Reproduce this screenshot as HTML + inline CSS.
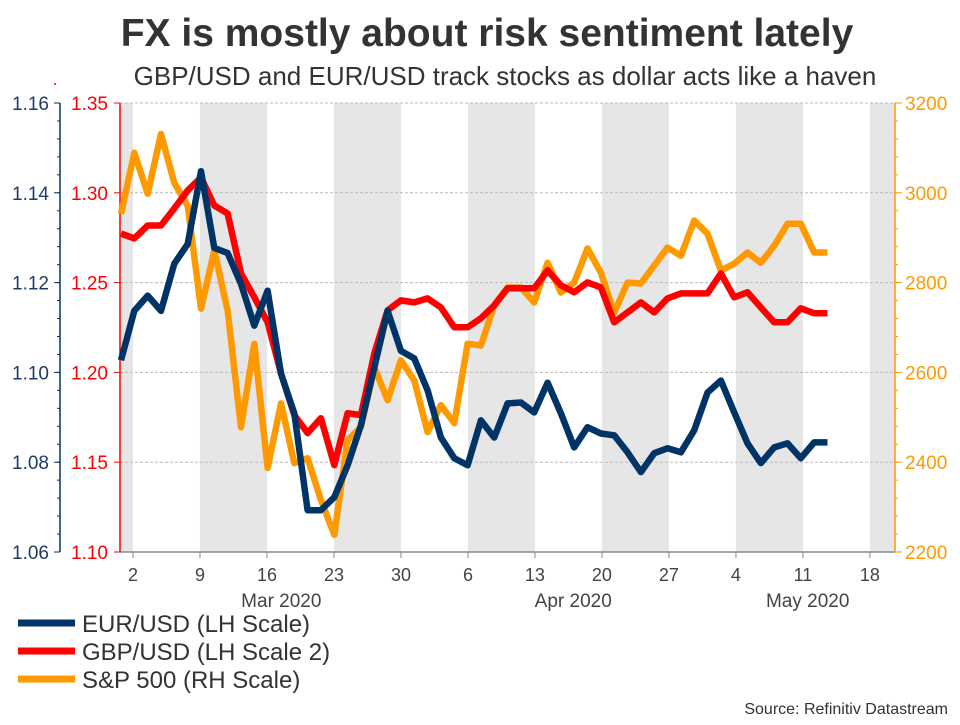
<!DOCTYPE html>
<html><head><meta charset="utf-8"><style>
body{margin:0;background:#fff;}
svg text{font-family:"Liberation Sans",Arial,sans-serif;}
</style></head><body>
<svg id="chart" width="960" height="720" viewBox="0 0 960 720" xmlns="http://www.w3.org/2000/svg">
<text x="487" y="46" text-anchor="middle" font-size="39" font-weight="bold" fill="#333">FX is mostly about risk sentiment lately</text>
<text x="505" y="85" text-anchor="middle" font-size="26" fill="#333">GBP/USD and EUR/USD track stocks as dollar acts like a haven</text>
<circle cx="55" cy="84" r="1" fill="#f00"/>
<g id="bands"></g><g id="grid"></g><g id="axes"></g><g id="series"></g>
<g>
<line x1="18" y1="623" x2="75" y2="623" stroke="#003366" stroke-width="7"/>
<text x="82" y="632" font-size="24" fill="#333">EUR/USD (LH Scale)</text>
<line x1="18" y1="651" x2="75" y2="651" stroke="#ff0000" stroke-width="7"/>
<text x="82" y="660" font-size="24" fill="#333">GBP/USD (LH Scale 2)</text>
<line x1="18" y1="679" x2="75" y2="679" stroke="#ff9900" stroke-width="7"/>
<text x="82" y="688" font-size="24" fill="#333">S&amp;P 500 (RH Scale)</text>
</g>
<text x="948" y="714" text-anchor="end" font-size="16" fill="#333">Source: Refinitiv Datastream</text>
</svg>
<script>
const eurusd=[1.1027,1.1137,1.1171,1.1137,1.1242,1.1286,1.1448,1.1277,1.1266,1.1197,1.1104,1.1182,1.0997,1.0909,1.0693,1.0693,1.0722,1.0793,1.0882,1.1011,1.1137,1.1048,1.1031,1.0960,1.0855,1.0809,1.0793,1.0893,1.0855,1.0931,1.0933,1.0911,1.0977,1.0909,1.0833,1.0878,1.0864,1.0860,1.0822,1.0778,1.0820,1.0831,1.0822,1.0871,1.0955,1.0982,1.0911,1.0842,1.0798,1.0833,1.0842,1.0809,1.0844,1.0844];
const gbpusd=[1.2773,1.2746,1.2818,1.2818,1.2913,1.3013,1.3085,1.2929,1.2885,1.2551,1.2418,1.2279,1.1995,1.1762,1.1662,1.1745,1.1484,1.1773,1.1762,1.2106,1.2346,1.2401,1.2390,1.2412,1.2362,1.2251,1.2251,1.2301,1.2373,1.2468,1.2468,1.2468,1.2568,1.2485,1.2446,1.2501,1.2473,1.2279,1.2334,1.2390,1.2334,1.2412,1.2440,1.2440,1.2440,1.2551,1.2418,1.2446,1.2362,1.2279,1.2279,1.2357,1.2329,1.2329];
const spx=[2953,3089,2998,3131,3022,2971,2742,2871,2738,2478,2664,2387,2531,2398,2409,2316,2238,2449,2478,2611,2538,2627,2582,2467,2527,2487,2664,2660,2749,2789,2789,2756,2844,2778,2800,2876,2822,2733,2800,2798,2838,2878,2860,2938,2909,2827,2842,2867,2844,2882,2931,2931,2867,2867];
const dayLabels=['2','9','16','23','30','6','13','20','27','4','11','18'];
const dayOffsets=[1,8,15,22,29,36,43,50,57,64,71,78];
const monthLabels=['Mar 2020','Apr 2020','May 2020'];
const monthOffsets=[16.5,47,71.5];
const eurTicks=[1.06,1.08,1.10,1.12,1.14,1.16];
const gbpTicks=[1.10,1.15,1.20,1.25,1.30,1.35];
const spxTicks=[2200,2400,2600,2800,3000,3200];

const NS='http://www.w3.org/2000/svg';
const L=120,R=895,T=103,B=552;
const xDay=d=>123.4+d*9.571;
const xIdx=i=>121+i*13.33;
const yEur=v=>B-(v-1.06)/0.10*(B-T);
const yGbp=v=>B-(v-1.10)/0.25*(B-T);
const ySpx=v=>B-(v-2200)/1000*(B-T);
function mk(tag,attrs,parent){const e=document.createElementNS(NS,tag);for(const k in attrs)e.setAttribute(k,attrs[k]);parent.appendChild(e);return e;}
const bands=document.getElementById('bands'),grid=document.getElementById('grid'),axes=document.getElementById('axes'),series=document.getElementById('series');
const bandStarts=[-6,8,22,36,50,64,78];
bandStarts.forEach((s,k)=>{const x1=Math.max(L,xDay(s)),x2=Math.min(R,xDay(s+7));
 const r=mk('rect',{x:x1,y:T,width:x2-x1,height:B-T,fill:'#e6e6e6'},bands);
 
 });
gbpTicks.forEach(v=>{if(v===1.10)return;const y=yGbp(v);
 const g=mk('line',{x1:L,x2:R,y1:y,y2:y,stroke:'#bbb','stroke-dasharray':'3,2','stroke-width':1},grid);
 
 });
const xa=mk('line',{x1:L,x2:R,y1:B,y2:B,stroke:'#888','stroke-width':1.5},axes);


dayOffsets.forEach((d,k)=>{const x=xDay(d);
 mk('line',{x1:x,x2:x,y1:B,y2:B+6,stroke:'#888'},axes);
 const t=mk('text',{x:x,y:B+29,'text-anchor':'middle','font-size':18,fill:'#444'},axes);t.textContent=dayLabels[k];
 
 });
monthOffsets.forEach((d,k)=>{const t=mk('text',{x:xDay(d),y:B+55,'text-anchor':'middle','font-size':19,fill:'#444'},axes);t.textContent=monthLabels[k];
 
 });
const ea=mk('line',{x1:60,x2:60,y1:T,y2:B,stroke:'#003366','stroke-width':1.5},axes);


for(let v=1.06;v<=1.1601;v+=0.004){const y=yEur(v);mk('line',{x1:57,x2:60,y1:y,y2:y,stroke:'#003366'},axes);}
eurTicks.forEach(v=>{const y=yEur(v);mk('line',{x1:54,x2:60,y1:y,y2:y,stroke:'#003366'},axes);
 const t=mk('text',{x:49,y:y+7,'text-anchor':'end','font-size':19,fill:'#1f3c64'},axes);t.textContent=v.toFixed(2);
 
 });
const ga=mk('line',{x1:L,x2:L,y1:T,y2:B,stroke:'#ff0000','stroke-width':1.5},axes);


gbpTicks.forEach(v=>{const y=yGbp(v);mk('line',{x1:114,x2:L,y1:y,y2:y,stroke:'#ff0000'},axes);
 const t=mk('text',{x:108,y:y+7,'text-anchor':'end','font-size':19,fill:'#ff0000'},axes);t.textContent=v.toFixed(2);
 
 });
const sa=mk('line',{x1:R,x2:R,y1:T,y2:B,stroke:'#ff9900','stroke-width':1.5},axes);


for(let v=2200;v<=3200;v+=40){const y=ySpx(v);mk('line',{x1:R,x2:R+3,y1:y,y2:y,stroke:'#ff9900'},axes);}
spxTicks.forEach(v=>{const y=ySpx(v);mk('line',{x1:R,x2:R+7,y1:y,y2:y,stroke:'#ff9900'},axes);
 const t=mk('text',{x:905,y:y+7,'font-size':19,fill:'#ff9900'},axes);t.textContent=v;
 
 });
function line(arr,yf){return arr.map((v,i)=>(i?'L':'M')+xIdx(i).toFixed(1)+','+yf(v).toFixed(1)).join('');}
const p1=mk('path',{d:line(spx,ySpx),fill:'none',stroke:'#ff9900','stroke-width':6.5,'stroke-linejoin':'round'},series);


const p2=mk('path',{d:line(gbpusd,yGbp),fill:'none',stroke:'#ff0000','stroke-width':6.5,'stroke-linejoin':'round'},series);


const p3=mk('path',{d:line(eurusd,yEur),fill:'none',stroke:'#003366','stroke-width':6.5,'stroke-linejoin':'round'},series);


</script>
</body></html>
